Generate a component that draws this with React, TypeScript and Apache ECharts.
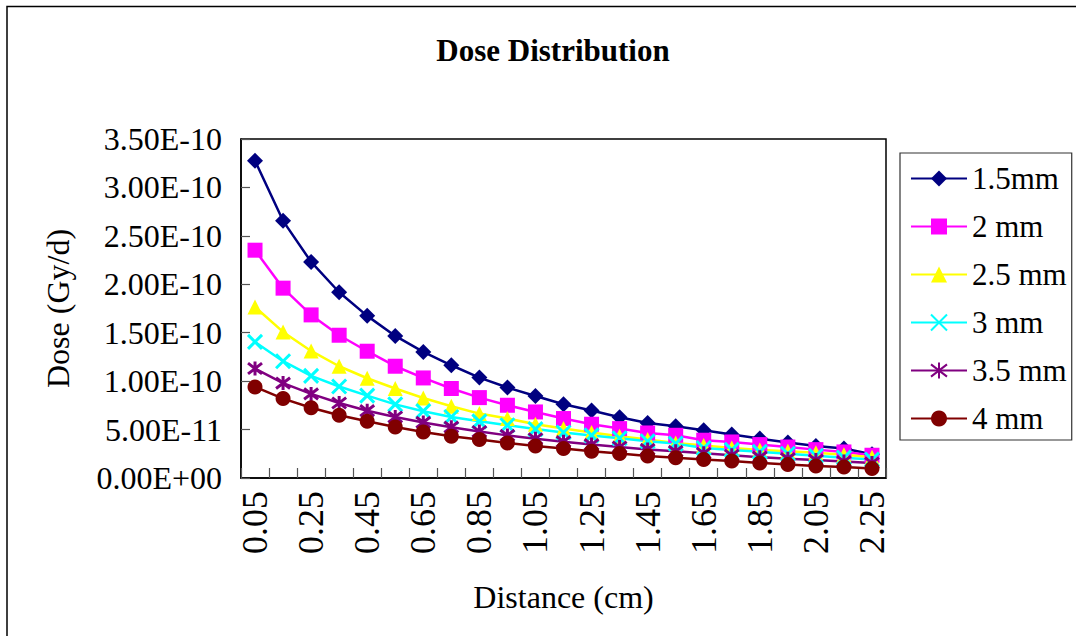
import React, { useEffect, useRef } from "react";
import * as echarts from "echarts";

const distances = [
  "0.05", "0.15", "0.25", "0.35", "0.45", "0.55", "0.65", "0.75", "0.85", "0.95", "1.05", "1.15",
  "1.25", "1.35", "1.45", "1.55", "1.65", "1.75", "1.85", "1.95", "2.05", "2.15", "2.25",
];

// values in units of 1e-10 Gy/d
const dose15 = [3.275, 2.655, 2.231, 1.918, 1.674, 1.467, 1.302, 1.164, 1.037, 0.934, 0.847, 0.761, 0.696, 0.627, 0.568, 0.534, 0.493, 0.448, 0.407, 0.366, 0.331, 0.304, 0.245];
const dose20 = [2.352, 1.96, 1.684, 1.474, 1.309, 1.154, 1.033, 0.924, 0.83, 0.751, 0.682, 0.614, 0.555, 0.51, 0.465, 0.441, 0.39, 0.372, 0.345, 0.32, 0.293, 0.269, 0.235];
const dose25 = [1.766, 1.508, 1.312, 1.154, 1.03, 0.924, 0.826, 0.741, 0.665, 0.614, 0.555, 0.51, 0.469, 0.431, 0.397, 0.362, 0.335, 0.31, 0.29, 0.275, 0.26, 0.24, 0.215];
const dose30 = [1.405, 1.206, 1.054, 0.945, 0.85, 0.76, 0.69, 0.63, 0.585, 0.545, 0.505, 0.47, 0.44, 0.41, 0.38, 0.355, 0.31, 0.29, 0.27, 0.25, 0.23, 0.21, 0.19];
const dose35 = [1.13, 0.98, 0.868, 0.774, 0.695, 0.63, 0.574, 0.525, 0.48, 0.44, 0.405, 0.375, 0.345, 0.32, 0.295, 0.275, 0.255, 0.235, 0.215, 0.2, 0.185, 0.17, 0.155];
const dose40 = [0.94, 0.82, 0.725, 0.648, 0.586, 0.527, 0.475, 0.431, 0.397, 0.362, 0.331, 0.304, 0.276, 0.252, 0.227, 0.21, 0.19, 0.176, 0.155, 0.14, 0.124, 0.114, 0.097];

const UNIT = 1e-10;
const seriesNames = ["1.5mm", "2 mm", "2.5 mm", "3 mm", "3.5 mm", "4 mm"];
const seriesData = [dose15, dose20, dose25, dose30, dose35, dose40];
const colors = ["#000080", "#FF00FF", "#FFFF00", "#00FFFF", "#800080", "#800000"];
const symbols = [
  "diamond",
  "rect",
  "triangle",
  "path://M0,0L10,10M10,0L0,10",
  "path://M0,0L10,10M10,0L0,10M5,-1.5L5,11.5",
  "circle",
];
const symbolSizes = [16, 15, 15, 14, 14, 15];

const FONT = "'Liberation Serif', 'Times New Roman', serif";

const fmt = (v: number) => {
  if (Math.abs(v) < 1e-20) return "0.00E+00";
  const [m, e] = v.toExponential(2).split("e");
  const n = parseInt(e, 10);
  return `${m}E${n < 0 ? "-" : "+"}${String(Math.abs(n)).padStart(2, "0")}`;
};

export default function App() {
  const ref = useRef<HTMLDivElement>(null);
  useEffect(() => {
    if (!ref.current) return;
    const chart = echarts.init(ref.current, undefined, { renderer: "svg" });
    const series = seriesNames.map((name, i) => {
      const isStroke = i === 3 || i === 4;
      return {
        name,
        type: "line",
        data: seriesData[i].map((v) => v * UNIT),
        symbol: symbols[i],
        symbolSize: symbolSizes[i],
        showAllSymbol: true,
        lineStyle: { color: colors[i], width: 2.5 },
        itemStyle: isStroke
          ? { color: colors[i], borderColor: colors[i], borderWidth: 3 }
          : { color: colors[i], borderWidth: 0 },
        emphasis: { disabled: true },
      };
    });
    chart.setOption({
      animation: false,
      backgroundColor: "#fff",
      textStyle: { fontFamily: FONT },
      title: {
        text: "Dose Distribution",
        left: 548,
        top: 30,
        textAlign: "center",
        textStyle: { fontFamily: FONT, fontWeight: "bold", fontSize: 31, color: "#000" },
      },
      grid: {
        left: 241,
        right: 190,
        top: 139,
        bottom: 158,
        show: true,
        borderColor: "#000",
        borderWidth: 1.5,
        backgroundColor: "transparent",
      },
      legend: {
        orient: "vertical",
        left: 900,
        top: 153,
        padding: [10, 5, 6, 10],
        itemWidth: 56,
        itemHeight: 20,
        itemGap: 17,
        borderColor: "#333",
        borderWidth: 1.2,
        backgroundColor: "#fff",
        textStyle: { fontFamily: FONT, fontSize: 31, color: "#000", lineHeight: 30 },
        data: seriesNames,
      },
      xAxis: {
        type: "category",
        data: distances,
        boundaryGap: true,
        name: "Distance (cm)",
        nameLocation: "middle",
        nameGap: 103,
        nameTextStyle: { fontFamily: FONT, fontSize: 32, color: "#000" },
        axisLine: { lineStyle: { color: "#000", width: 1.5 } },
        axisTick: { show: true, inside: true, length: 10, interval: 0, lineStyle: { color: "#555", width: 1.2 } },
        axisLabel: { interval: 1, rotate: 90, margin: 13, fontFamily: FONT, fontSize: 36, color: "#000" },
        splitLine: { show: false },
      },
      yAxis: {
        type: "value",
        min: 0,
        max: 3.5 * UNIT,
        interval: 0.5 * UNIT,
        name: "Dose (Gy/d)",
        nameLocation: "middle",
        nameGap: 167,
        nameTextStyle: { fontFamily: FONT, fontSize: 32, color: "#000" },
        axisLine: { show: true, lineStyle: { color: "#000", width: 1.5 } },
        axisTick: { show: true, inside: true, length: 9, lineStyle: { color: "#555", width: 1.2 } },
        axisLabel: { margin: 19, fontFamily: FONT, fontSize: 32, color: "#000", formatter: (v: number) => fmt(v) },
        splitLine: { show: false },
      },
      graphic: [
        {
          type: "rect",
          shape: { x: 7, y: 6.5, width: 1200, height: 1000 },
          style: { fill: "none", stroke: "#000", lineWidth: 1.5 },
          silent: true,
        },
      ],
      series,
    });
    return () => chart.dispose();
  }, []);
  return (
    <div
      ref={ref}
      style={{ position: "absolute", left: 0, top: 0, width: 1076, height: 636, background: "#fff" }}
    />
  );
}
